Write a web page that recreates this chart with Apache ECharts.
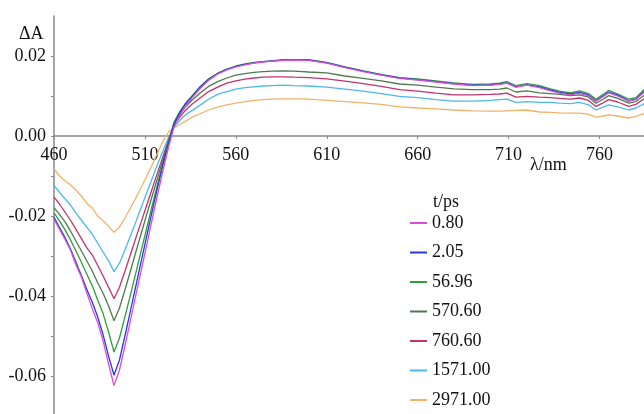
<!DOCTYPE html>
<html>
<head>
<meta charset="utf-8">
<script src="https://cdn.jsdelivr.net/npm/echarts@6/dist/echarts.min.js"></script>
<style>
html,body{margin:0;padding:0;background:#fff;}
#chart{width:644px;height:414px;}
</style>
</head>
<body>
<div id="chart"></div>
<script>
// wavelengths (nm)
const wavelengths = [460,463,466,469,472,475,478,481,484,487,490,
  493,496,499,502,505,508,511,514,517,520,523,526,529,
  532,536,540,545,550,555,560,565,570,575,580,586,592,600,
  610,620,630,640,650,660,670,680,690,700,
  705,709,714,720,727,733,738,744,749,754,758,762,765,770,776,780,785];

const seriesNames = ['0.80','2.05','56.96','570.60','760.60','1571.00','2971.00'];

const t0080 = [-0.0208,-0.0233,-0.0258,-0.0285,-0.0321,-0.0352,-0.0392,-0.0431,-0.0466,-0.0512,-0.0570,
  -0.0624,-0.0585,-0.0525,-0.0462,-0.0398,-0.0335,-0.0272,-0.0208,-0.0145,-0.0085,-0.0028,0.0022,0.0050,
  0.0073,0.0096,0.0117,0.0139,0.0155,0.0165,0.0173,0.0178,0.0182,0.0185,0.0187,0.0189,0.0190,0.0189,
  0.0182,0.0171,0.0161,0.0152,0.0144,0.0140,0.0135,0.0130,0.0126,0.0127,
  0.0129,0.0132,0.0122,0.0127,0.0121,0.0113,0.0107,0.0103,0.0107,0.0100,0.0087,0.0098,0.0108,0.0100,0.0087,0.0091,0.0111];

const t0205 = [-0.0203,-0.0228,-0.0253,-0.0282,-0.0315,-0.0348,-0.0383,-0.0415,-0.0452,-0.0497,-0.0550,
  -0.0598,-0.0560,-0.0500,-0.0438,-0.0375,-0.0312,-0.0250,-0.0188,-0.0128,-0.0070,-0.0018,0.0030,0.0057,
  0.0078,0.0099,0.0120,0.0141,0.0156,0.0166,0.0174,0.0179,0.0183,0.0186,0.0188,0.0190,0.0190,0.0190,
  0.0183,0.0172,0.0162,0.0153,0.0145,0.0141,0.0136,0.0131,0.0127,0.0128,
  0.0130,0.0133,0.0123,0.0128,0.0123,0.0115,0.0109,0.0105,0.0109,0.0102,0.0088,0.0100,0.0110,0.0102,0.0088,0.0093,0.0113];

const t5696 = [-0.0192,-0.0212,-0.0234,-0.0259,-0.0287,-0.0315,-0.0345,-0.0374,-0.0410,-0.0444,-0.0490,
  -0.0540,-0.0505,-0.0452,-0.0398,-0.0342,-0.0286,-0.0230,-0.0174,-0.0120,-0.0067,-0.0015,0.0035,0.0060,
  0.0080,0.0101,0.0122,0.0143,0.0157,0.0167,0.0175,0.0180,0.0184,0.0186,0.0188,0.0190,0.0191,0.0191,
  0.0184,0.0173,0.0163,0.0154,0.0146,0.0143,0.0138,0.0133,0.0129,0.0130,
  0.0132,0.0136,0.0126,0.0131,0.0126,0.0118,0.0112,0.0108,0.0113,0.0106,0.0092,0.0104,0.0114,0.0105,0.0092,0.0096,0.0118];

const t57060 = [-0.0179,-0.0196,-0.0214,-0.0237,-0.0262,-0.0287,-0.0312,-0.0337,-0.0367,-0.0393,-0.0425,
  -0.0462,-0.0430,-0.0385,-0.0338,-0.0290,-0.0243,-0.0196,-0.0150,-0.0104,-0.0058,-0.0012,0.0030,0.0052,
  0.0072,0.0090,0.0106,0.0124,0.0136,0.0145,0.0152,0.0156,0.0159,0.0161,0.0162,0.0163,0.0162,0.0160,
  0.0158,0.0150,0.0144,0.0138,0.0130,0.0127,0.0122,0.0118,0.0116,0.0116,
  0.0117,0.0120,0.0110,0.0113,0.0108,0.0106,0.0104,0.0101,0.0103,0.0097,0.0082,0.0092,0.0101,0.0094,0.0082,0.0086,0.0103];

const t76060 = [-0.0153,-0.0170,-0.0190,-0.0210,-0.0233,-0.0256,-0.0279,-0.0297,-0.0323,-0.0350,-0.0378,
  -0.0407,-0.0378,-0.0338,-0.0297,-0.0255,-0.0214,-0.0173,-0.0132,-0.0091,-0.0050,-0.0010,0.0027,0.0046,
  0.0063,0.0080,0.0094,0.0111,0.0122,0.0132,0.0138,0.0142,0.0145,0.0147,0.0148,0.0148,0.0147,0.0146,
  0.0143,0.0137,0.0131,0.0124,0.0116,0.0112,0.0107,0.0103,0.0103,0.0104,
  0.0105,0.0107,0.0097,0.0099,0.0097,0.0096,0.0094,0.0092,0.0095,0.0089,0.0074,0.0083,0.0091,0.0085,0.0074,0.0079,0.0095];

const t157100 = [-0.0124,-0.0140,-0.0157,-0.0172,-0.0192,-0.0210,-0.0228,-0.0245,-0.0268,-0.0290,-0.0312,
  -0.0339,-0.0318,-0.0285,-0.0250,-0.0215,-0.0178,-0.0142,-0.0106,-0.0070,-0.0036,-0.0003,0.0022,0.0038,
  0.0052,0.0064,0.0076,0.0092,0.0104,0.0111,0.0117,0.0121,0.0123,0.0125,0.0126,0.0127,0.0126,0.0125,
  0.0122,0.0117,0.0112,0.0106,0.0099,0.0096,0.0091,0.0087,0.0087,0.0089,
  0.0091,0.0092,0.0084,0.0086,0.0084,0.0084,0.0082,0.0081,0.0084,0.0078,0.0065,0.0072,0.0078,0.0073,0.0065,0.0070,0.0082];

const t297100 = [-0.0082,-0.0100,-0.0112,-0.0122,-0.0135,-0.0150,-0.0168,-0.0180,-0.0200,-0.0212,-0.0226,
  -0.0241,-0.0228,-0.0205,-0.0180,-0.0155,-0.0128,-0.0100,-0.0072,-0.0042,-0.0012,0.0010,0.0020,0.0028,
  0.0036,0.0047,0.0055,0.0065,0.0072,0.0078,0.0082,0.0086,0.0089,0.0091,0.0092,0.0093,0.0093,0.0092,
  0.0089,0.0086,0.0083,0.0079,0.0073,0.0070,0.0068,0.0065,0.0063,0.0062,
  0.0062,0.0063,0.0064,0.0065,0.0060,0.0059,0.0058,0.0057,0.0057,0.0054,0.0047,0.0050,0.0053,0.0050,0.0045,0.0049,0.0057];

const xTickValues = [460,510,560,610,660,710,760];
const yLabelValues = [-0.06,-0.04,-0.02,0,0.02];
const yTickValues = [-0.06,-0.05,-0.04,-0.03,-0.02,-0.01,0,0.01,0.02];

const seriesValues = [t0080,t0205,t5696,t57060,t76060,t157100,t297100];
const colors = ['#d650d6','#2a3ad8','#2e9e3c','#4c7c4c','#c2336e','#4cb8ec','#f2b268'];

const FONT = '"Liberation Serif", "Times New Roman", serif';
const chart = echarts.init(document.getElementById('chart'), null, {renderer:'canvas'});

const series = seriesValues.map((vals, k) => ({
  name: seriesNames[k],
  type: 'line',
  data: wavelengths.map((w, i) => [w, vals[i]]),
  showSymbol: false,
  symbol: 'none',
  lineStyle: {color: colors[k], width: 1.3},
  itemStyle: {color: colors[k]},
  z: 10 - k
}));

const Y_MIN = -0.07, Y_MAX = 0.03, GRID_TOP = 16, GRID_H = 400;
// distance from grid bottom edge up to the zero line
const zeroOffset = -GRID_H * (0 - Y_MIN) / (Y_MAX - Y_MIN);

chart.setOption({
  animation: false,
  backgroundColor: '#fff',
  grid: {left: 54, top: GRID_TOP, width: 591, height: GRID_H, containLabel: false, outerBoundsMode: 'none'},
  xAxis: {
    type: 'value', min: 460, max: 785, position: 'bottom', offset: zeroOffset,
    axisLine: {onZero: false, lineStyle: {color: '#888', width: 1.5}},
    axisTick: {show: true, length: 3, customValues: xTickValues, lineStyle: {color: '#888'}},
    axisLabel: {customValues: xTickValues, margin: 10, color: '#111', fontFamily: FONT, fontSize: 18},
    splitLine: {show: false}
  },
  yAxis: {
    type: 'value', min: Y_MIN, max: Y_MAX,
    axisLine: {show: true, onZero: false, lineStyle: {color: '#888', width: 1.5}},
    axisTick: {show: true, length: 3, customValues: yTickValues, lineStyle: {color: '#888'}},
    axisLabel: {customValues: yLabelValues, margin: 8, color: '#111', fontFamily: FONT, fontSize: 18,
      formatter: v => v.toFixed(2)},
    splitLine: {show: false}
  },
  legend: {
    orient: 'vertical', left: 410, top: 213, height: 260, padding: 0,
    icon: 'rect', itemWidth: 17, itemHeight: 2, itemGap: 9.5,
    textStyle: {fontFamily: FONT, fontSize: 18, color: '#111', lineHeight: 20, height: 20},
    data: seriesNames.map((n, k) => ({name: n, itemStyle: {color: colors[k]}}))
  },
  graphic: [
    {type: 'text', left: 19, top: 25, style: {text: 'ΔA', font: '18px ' + FONT, fill: '#111'}},
    {type: 'text', left: 530, top: 156, style: {text: 'λ/nm', font: '18px ' + FONT, fill: '#111'}},
    {type: 'text', left: 433, top: 193, style: {text: 't/ps', font: '18px ' + FONT, fill: '#111'}}
  ],
  series: series
});
</script>
</body>
</html>
